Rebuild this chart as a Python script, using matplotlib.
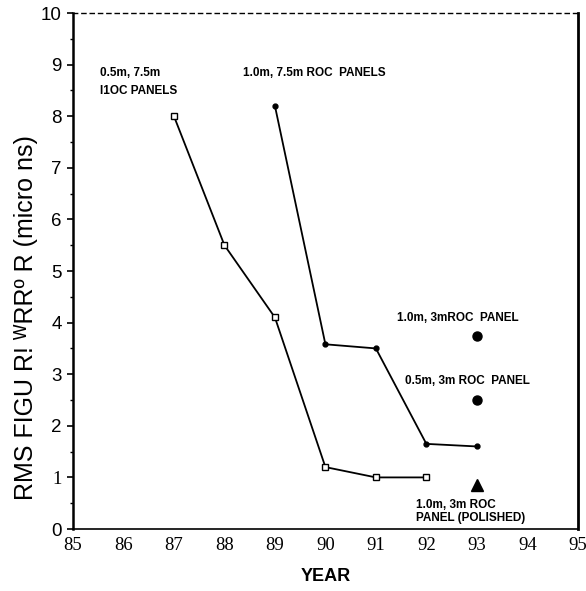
import matplotlib
matplotlib.use("Agg")
import matplotlib.pyplot as plt
from matplotlib.ticker import MultipleLocator

# Data
years_a = [87, 88, 89, 90, 91, 92]
rms_a = [8.0, 5.5, 4.1, 1.2, 1.0, 1.0]          # 0.5m, 7.5m ROC panels (open squares)
years_b = [89, 90, 91, 92, 93]
rms_b = [8.2, 3.58, 3.5, 1.65, 1.6]             # 1.0m, 7.5m ROC panels (filled dots)
year_single = [93, 93]
rms_single = [3.75, 2.5]                         # 1.0m,3m ROC panel; 0.5m,3m ROC panel
year_polished = [93]
rms_polished = [0.85]                            # 1.0m,3m ROC panel (polished)

xticks = list(range(85, 96))
yticks = list(range(0, 11))

fig = plt.figure(figsize=(5.86, 5.91), dpi=100)
ax = fig.add_axes([0.1246, 0.1049, 0.8614, 0.873])

ax.plot(years_a, rms_a, color="black", lw=1.3, marker="s", ms=4.5,
        mfc="white", mec="black", mew=1.0)
ax.plot(years_b, rms_b, color="black", lw=1.3, marker="o", ms=3.5,
        mfc="black", mec="black")
ax.plot(year_single, rms_single, ls="none", marker="o", ms=6.5, color="black")
ax.plot(year_polished, rms_polished, ls="none", marker="^", ms=8, color="black")

ax.set_xlim(85, 95)
ax.set_ylim(0, 10)
ax.set_xticks(xticks)
ax.set_yticks(yticks)
ax.yaxis.set_minor_locator(MultipleLocator(0.5))
ax.set_xticklabels([str(t) for t in xticks], family="Liberation Serif", fontsize=13.5)
ax.set_yticklabels([str(t) for t in yticks], family="Liberation Sans", fontsize=13.5)
for lab in ax.get_yticklabels():
    if lab.get_text() == "1":
        lab.set_family("Liberation Serif")
ax.tick_params(axis="x", length=0, pad=6)
ax.tick_params(axis="y", which="major", length=4, width=1.2, direction="out", pad=4)
ax.tick_params(axis="y", which="minor", length=2.5, width=1.0, direction="out")

ax.spines["left"].set_linewidth(1.8)
ax.spines["bottom"].set_linewidth(1.2)
ax.spines["right"].set_linewidth(2.0)
ax.spines["top"].set_linewidth(1.0)
ax.spines["top"].set_linestyle((0, (3, 3)))

ax.set_xlabel("YEAR", family="Liberation Sans", fontweight="bold", fontsize=13, labelpad=10)
fig.text(0.045, 0.462, "RMS FIGU R! ᵂRRº R (micro ns)", family=["Liberation Sans", "DejaVu Sans"],
         fontsize=18, rotation=90, ha="center", va="center")

fs = 8.5
kw = dict(family="Liberation Sans", fontweight="bold", fontsize=fs, va="center", ha="left")
ax.text(85.53, 8.84, "0.5m, 7.5m", **kw)
ax.text(85.53, 8.49, "I1OC PANELS", **kw)
ax.text(88.37, 8.84, "1.0m, 7.5m ROC  PANELS", **kw)
ax.text(91.42, 4.09, "1.0m, 3mROC  PANEL", **kw)
ax.text(91.57, 2.87, "0.5m, 3m ROC  PANEL", **kw)
ax.text(91.80, 0.47, "1.0m, 3m ROC", **kw)
ax.text(91.79, 0.22, "PANEL (POLISHED)", **kw)

fig.savefig("out.png", dpi=100)
